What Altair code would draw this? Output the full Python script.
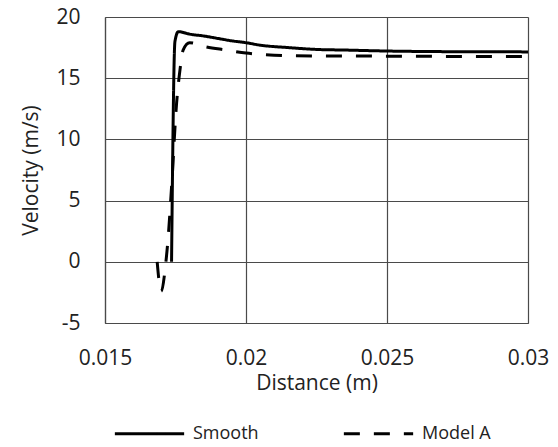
import altair as alt
import pandas as pd

smooth_x = [0.01736, 0.01748, 0.0176, 0.0180, 0.0185, 0.0190, 0.0195, 0.0200, 0.0205,
            0.0215, 0.0225, 0.0235, 0.0250, 0.0270, 0.0300]
smooth_y = [0.0, 18.0, 18.8, 18.6, 18.45, 18.25, 18.05, 17.9, 17.7,
            17.5, 17.35, 17.3, 17.22, 17.17, 17.15]

model_x = [0.01685, 0.01699, 0.01716, 0.01724, 0.01736, 0.01754, 0.01766, 0.01777,
           0.0180, 0.0186, 0.0193, 0.0200, 0.0210, 0.0225, 0.0250, 0.0275, 0.0300]
model_y = [0.0, -2.4, 0.0, 2.0, 6.1, 13.0, 15.7, 17.3,
           17.9, 17.55, 17.3, 17.05, 16.88, 16.82, 16.8, 16.78, 16.77]

series = ["Smooth", "Model A"]
x_ticks = [0.015, 0.02, 0.025, 0.03]
y_ticks = [-5, 0, 5, 10, 15, 20]

rows = []
for i, (x, y) in enumerate(zip(smooth_x, smooth_y)):
    rows.append({"Distance": x, "Velocity": y, "Series": series[0], "order": i})
for i, (x, y) in enumerate(zip(model_x, model_y)):
    rows.append({"Distance": x, "Velocity": y, "Series": series[1], "order": i})
df = pd.DataFrame(rows)

FONT = "Open Sans"
GRID = "#4a4a4a"
TXT = "#222222"

chart = alt.Chart(df).mark_line(color="black", strokeWidth=3, interpolate="monotone").encode(
    x=alt.X("Distance:Q",
            scale=alt.Scale(domain=[0.015, 0.03], nice=False, zero=False),
            axis=alt.Axis(values=x_ticks, labelExpr="'' + datum.value", title="Distance (m)",
                          grid=True, gridColor=GRID, gridWidth=1.2,
                          domainColor=GRID, domainWidth=1.2, ticks=False,
                          labelPadding=24, labelFontSize=21, titleFontSize=21,
                          labelFont=FONT, titleFont=FONT, labelColor=TXT,
                          titleColor=TXT, titleFontWeight="normal",
                          titlePadding=4, labelFlush=False)),
    y=alt.Y("Velocity:Q",
            scale=alt.Scale(domain=[-5, 20], nice=False, zero=False),
            axis=alt.Axis(values=y_ticks, labelExpr="'' + datum.value", title="Velocity (m/s)",
                          grid=True, gridColor=GRID, gridWidth=1.2,
                          domainColor=GRID, domainWidth=1.2, ticks=False,
                          labelPadding=25, labelFontSize=21, titleFontSize=21,
                          labelFont=FONT, titleFont=FONT, labelColor=TXT,
                          titleColor=TXT, titleFontWeight="normal",
                          titlePadding=14)),
    strokeDash=alt.StrokeDash("Series:N",
                              scale=alt.Scale(domain=series, range=[[1, 0], [16, 14]]),
                              legend=alt.Legend(title=None, orient="none", direction="horizontal",
                                                legendX=8, legendY=380,
                                                symbolType="stroke", symbolSize=4800,
                                                symbolStrokeWidth=3, symbolStrokeColor="black",
                                                labelFontSize=18, labelFont=FONT,
                                                labelColor=TXT, labelOffset=7,
                                                columnPadding=78, padding=0)),
    order="order:Q",
).properties(
    width=423, height=306,
    autosize=alt.AutoSizeParams(type="none"),
    padding={"left": 105, "top": 17, "right": 30, "bottom": 124},
).configure_view(stroke=GRID, strokeWidth=1.2).configure(background="white")

chart.save("out.html", embed_options={"renderer": "svg", "actions": False})
